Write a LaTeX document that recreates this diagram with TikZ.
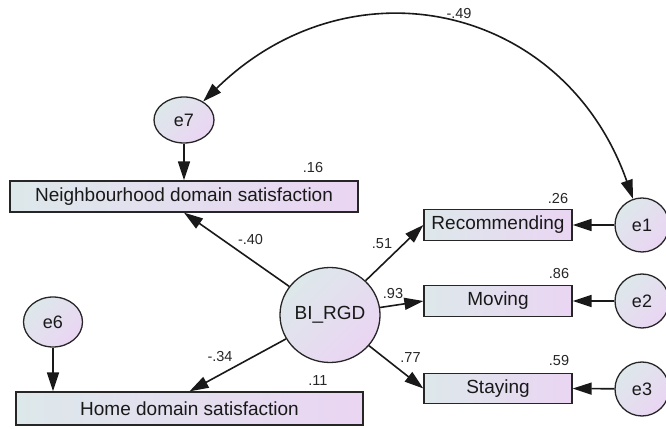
\documentclass[tikz,border=0pt]{standalone}
\usepackage{fontspec}
\setmainfont{Liberation Sans}
\usetikzlibrary{arrows.meta, shapes.geometric}
\definecolor{shadeL}{RGB}{221,232,234}
\definecolor{shadeR}{RGB}{234,213,243}
\tikzset{
  obs/.style={draw=black!85, line width=1.3pt, left color=shadeL, right color=shadeR,
    inner sep=0pt, font=\fontsize{19}{22}\selectfont, text=black!90},
  lat/.style={draw=black!85, line width=1.3pt, ellipse, top color=shadeL, bottom color=shadeR,
    shading angle=45, inner sep=0pt, text=black!90},
  err/.style={lat, font=\fontsize{18}{21}\selectfont},
  tip/.style={Triangle[length=19pt,width=12pt]},
  reg/.style={draw=black!90, line width=1.6pt, -{Triangle[length=19pt,width=12pt]}},
  cov/.style={draw=black!90, line width=1.6pt, {Triangle[length=19pt,width=12pt]}-{Triangle[length=19pt,width=12pt]}},
  coef/.style={font=\fontsize{14.5}{16}\selectfont, text=black!85, inner sep=0pt}
}
\begin{document}
\begin{tikzpicture}[x=1pt,y=1pt]
\useasboundingbox (0,0) rectangle (666,428);

% observed variables
\node[obs, minimum width=348pt, minimum height=31pt] (nbh) at (184,231.5) {Neighbourhood domain satisfaction};
\node[obs, minimum width=347pt, minimum height=33pt] (home) at (189.5,19.5) {Home domain satisfaction};
\node[obs, minimum width=148pt, minimum height=31pt] (rec) at (498,203) {Recommending};
\node[obs, minimum width=148pt, minimum height=31pt] (mov) at (498,127) {Moving};
\node[obs, minimum width=148pt, minimum height=30pt] (sta) at (498,39.5) {Staying};

% latent factor
\node[lat, minimum width=100pt, minimum height=95pt, font=\fontsize{19}{22}\selectfont] (bi) at (330,113) {BI\_RGD};

% error terms
\node[err, minimum width=60pt, minimum height=46pt] (e7) at (184,308) {e7};
\node[err, minimum width=59pt, minimum height=50pt] (e6) at (53,106) {e6};
\node[err, minimum width=54pt, minimum height=54pt] (e1) at (642,203) {e1};
\node[err, minimum width=54pt, minimum height=54pt] (e2) at (642,127) {e2};
\node[err, minimum width=54pt, minimum height=54pt] (e3) at (642,39) {e3};

% regression paths
\draw[reg] (bi) -- (nbh.south);
\draw[reg] (bi) -- (home.north);
\draw[reg] (bi) -- (rec.west);
\draw[reg] (bi) -- (mov.west);
\draw[reg] (bi) -- (sta.west);
\draw[reg] (e7) -- (nbh.north);
\draw[reg] (e6) -- (e6 |- home.north);
\draw[reg] (e1) -- (rec.east);
\draw[reg] (e2) -- (mov.east);
\draw[reg] (e3) -- (sta.east);

% error covariance
\draw[cov] (e7.44.4) to[out=44.4, in=109.4, looseness=1.2] (e1.109.4);

% estimates
\node[coef] (c49) at (459,414) {-.49};
\node[coef] (c16) at (313,260) {.16};
\node[coef] (c26) at (558,229) {.26};
\node[coef] (c40) at (250.5,188) {-.40};
\node[coef] (c51) at (382,184.5) {.51};
\node[coef] (c93) at (393,134.5) {.93};
\node[coef] (c77) at (410.5,70) {.77};
\node[coef] (c86) at (559,154) {.86};
\node[coef] (c59) at (559,67) {.59};
\node[coef] (c34) at (220,71) {-.34};
\node[coef] (c11) at (318,47) {.11};
\end{tikzpicture}
\end{document}
